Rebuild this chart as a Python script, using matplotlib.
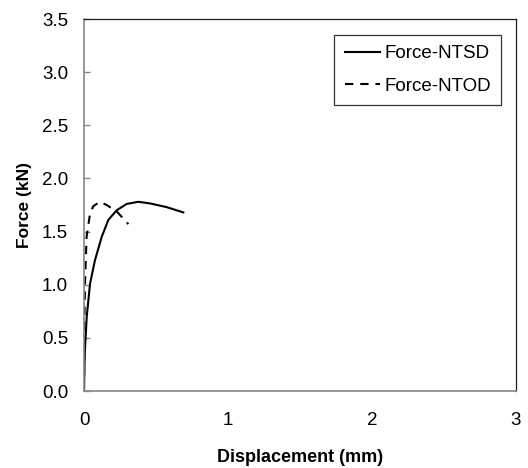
import matplotlib
matplotlib.use("Agg")
import matplotlib.pyplot as plt

plt.rcParams["font.family"] = ["Liberation Sans", "DejaVu Sans"]

# values
ntsd_disp = [0.0, 0.005, 0.019, 0.042, 0.076, 0.123, 0.169, 0.227, 0.296, 0.377, 0.458, 0.574, 0.69]
ntsd_force = [0.0, 0.35, 0.70, 1.01, 1.23, 1.45, 1.61, 1.70, 1.76, 1.78, 1.765, 1.73, 1.68]

ntod_disp = [0.0, 0.002, 0.007, 0.018, 0.042, 0.065, 0.111, 0.157, 0.227, 0.308]
ntod_force = [0.0, 0.55, 1.01, 1.45, 1.67, 1.74, 1.78, 1.75, 1.69, 1.57]

x_ticks = [0, 1, 2, 3]
y_ticks = [0.0, 0.5, 1.0, 1.5, 2.0, 2.5, 3.0, 3.5]

fig = plt.figure(figsize=(5.28, 4.68), dpi=100)
ax = fig.add_axes([84 / 528, 1 - 391 / 468, 432 / 528, 372 / 468])

ax.plot(ntsd_disp, ntsd_force, color="black", lw=1.5, label="Force-NTSD")
ax.plot(ntod_disp, ntod_force, color="black", lw=1.5, dashes=(4, 3.3), label="Force-NTOD")

ax.set_xlim(0, 3)
ax.set_ylim(0, 3.5)
ax.set_xticks(x_ticks)
ax.set_xticklabels([str(v) for v in x_ticks])
ax.set_yticks(y_ticks)
ax.set_yticklabels([f"{v:.1f}" for v in y_ticks])

ax.tick_params(axis="x", length=0, pad=15, labelsize=13.5)
ax.tick_params(axis="y", direction="in", length=4, width=1, color="#868686", pad=11.5, labelsize=13.5)

for side in ("left", "bottom"):
    ax.spines[side].set_color("#868686")
    ax.spines[side].set_linewidth(1.2)
for side in ("top", "right"):
    ax.spines[side].set_color("#202020")
    ax.spines[side].set_linewidth(0.9)

ax.set_xlabel("Displacement (mm)", fontsize=13, fontweight="bold")
ax.xaxis.set_label_coords(0.5, -(449 - 391) / 372)
ax.set_ylabel("Force (kN)", fontsize=12.5, fontweight="bold")
ax.yaxis.set_label_coords(-(84 - 32) / 432, 0.5)

leg = ax.legend(loc="upper right", bbox_to_anchor=((501 - 84) / 432, (391 - 35) / 372),
                fontsize=13.5, frameon=True, fancybox=False, handlelength=1.9,
                handletextpad=0.2, borderpad=0.55, labelspacing=0.8, borderaxespad=0)
leg.get_frame().set_edgecolor("black")
leg.get_frame().set_linewidth(0.9)

fig.savefig("out.png", dpi=100)
